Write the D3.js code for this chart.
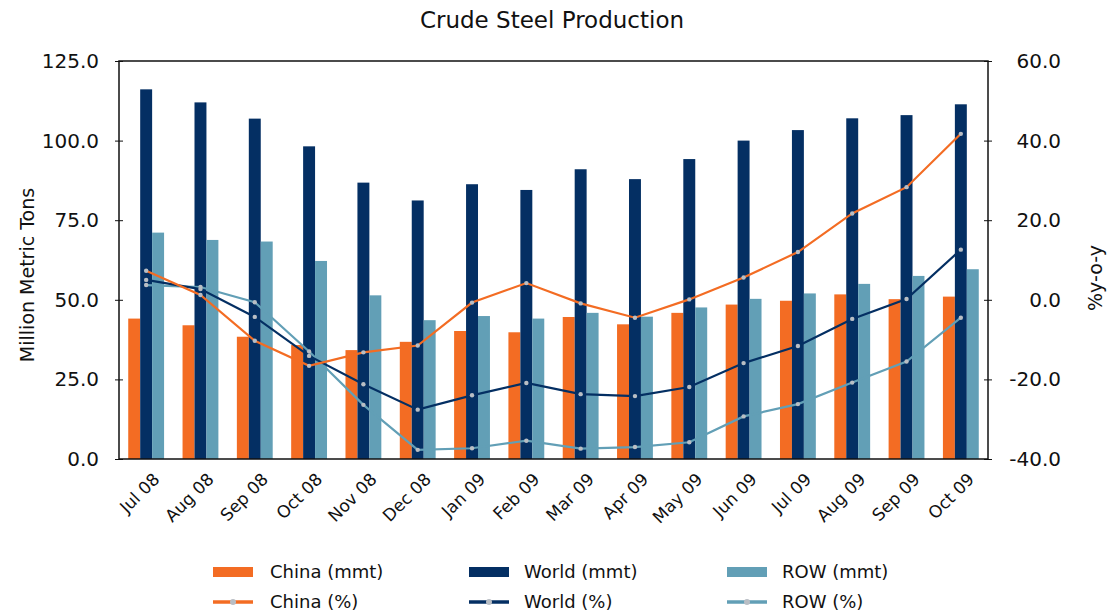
<!DOCTYPE html>
<html>
<head>
<meta charset="utf-8">
<script src="https://cdn.jsdelivr.net/npm/d3@7"></script>
<style>
  body { margin: 0; background: #fff; }
  svg text { font-family: "DejaVu Sans", sans-serif; fill: #111; }
</style>
</head>
<body>
<svg id="main" width="1112" height="616"></svg>
<script>
const months = ["Jul 08","Aug 08","Sep 08","Oct 08","Nov 08","Dec 08","Jan 09","Feb 09",
                "Mar 09","Apr 09","May 09","Jun 09","Jul 09","Aug 09","Sep 09","Oct 09"]
const chinaMmt = [44.1,42.0,38.4,35.8,34.2,36.8,40.2,39.8,44.6,42.3,45.9,48.5,49.7,51.7,50.2,51.0]
const worldMmt = [116.1,112.0,106.9,98.2,86.8,81.2,86.3,84.5,91.0,87.9,94.2,100.0,103.3,107.0,108.0,111.4]
const rowMmt   = [71.1,68.8,68.3,62.2,51.4,43.6,44.9,44.1,45.9,44.7,47.6,50.3,52.0,55.0,57.5,59.6]
const chinaPct = [7.3,1.2,-10.3,-16.6,-13.2,-11.5,-0.7,4.2,-0.9,-4.5,0.1,5.6,12.0,21.7,28.3,41.7]
const worldPct = [5.0,2.7,-4.3,-14.1,-21.2,-27.6,-24.0,-20.9,-23.7,-24.2,-21.9,-15.9,-11.6,-4.8,0.2,12.6]
const rowPct   = [3.7,3.2,-0.6,-13.0,-26.4,-37.7,-37.3,-35.4,-37.4,-37.0,-35.8,-29.3,-26.2,-20.8,-15.5,-4.5]
const leftTicks = [0,25,50,75,100,125]
const rightTicks = [-40,-20,0,20,40,60]

const colors = {china:"#f36c23", world:"#042f63", row:"#629fb6"}

const svg = d3.select("#main")
const L = 119, R = 988, T = 61, B = 459
const fmt = d => d.toFixed(1)   // plain hyphen for negatives

let x = d3.scaleBand().domain(months).range([L,R]).paddingInner(0.34).paddingOuter(0.17)
let sub = d3.scaleBand().domain(["china","world","row"]).range([0,x.bandwidth()])
let yL = d3.scaleLinear().domain([0,125]).range([B,T])
let yR = d3.scaleLinear().domain([-40,60]).range([B,T])

// bars
const barSeries = [["china",chinaMmt],["world",worldMmt],["row",rowMmt]]
barSeries.forEach(([key,vals]) => {
    svg.append("g").selectAll("rect")
        .data(vals)
        .enter()
        .append("rect")
        .attr("x",(d,i)=> x(months[i]) + sub(key))
        .attr("width", sub.bandwidth())
        .attr("y", d=> yL(d))
        .attr("height", d=> B - yL(d))
        .style("fill", colors[key])
})

// lines
const cx = i => x(months[i]) + x.bandwidth()/2
const lineSeries = [["row",rowPct],["world",worldPct],["china",chinaPct]]
lineSeries.forEach(([key,vals]) => {
    let line = d3.line().x((d,i)=>cx(i)).y(d=>yR(d))
    svg.append("path").datum(vals)
        .attr("d", line)
        .attr("fill","none")
        .attr("stroke", colors[key])
        .attr("stroke-width", 2.2)
    svg.append("g").selectAll("circle")
        .data(vals).enter().append("circle")
        .attr("cx",(d,i)=>cx(i)).attr("cy",d=>yR(d))
        .attr("r",2.2)
        .style("fill","#b9bec4")
})

// frame
svg.append("rect").attr("x",L).attr("y",T).attr("width",R-L).attr("height",B-T)
    .attr("fill","none").attr("stroke","#111").attr("stroke-width",1.5)

// axes
let leftAxis = d3.axisLeft(yL).tickValues(leftTicks).tickFormat(fmt).tickSize(4).tickPadding(16)
let gl = svg.append("g").attr("transform",`translate(${L},0)`).call(leftAxis)
gl.select(".domain").remove()
gl.selectAll(".tick line").attr("x1",4).attr("stroke","#111")
gl.selectAll("text").style("font-size","20px")

let rightAxis = d3.axisRight(yR).tickValues(rightTicks).tickFormat(fmt).tickSize(4).tickPadding(0)
let gr = svg.append("g").attr("transform",`translate(${R},0)`).call(rightAxis)
gr.select(".domain").remove()
gr.selectAll(".tick line").attr("x1",-4).attr("stroke","#111")
gr.selectAll("text").style("font-size","20px").attr("text-anchor","end").attr("x",73)

// x labels
svg.append("g").selectAll("text")
    .data(months).enter().append("text")
    .attr("transform", d=> `translate(${x(d)+x.bandwidth()/2+6},${B+13}) rotate(-45)`)
    .attr("text-anchor","end")
    .attr("dy","0.7em")
    .style("font-size","17px")
    .text(d=>d)

// titles
svg.append("text").attr("x",552).attr("y",28).attr("text-anchor","middle")
    .style("font-size","23px").text("Crude Steel Production")
svg.append("text").attr("transform","translate(34,275) rotate(-90)").attr("text-anchor","middle")
    .style("font-size","19px").text("Million Metric Tons")
svg.append("text").attr("transform","translate(1102,278) rotate(-90)").attr("text-anchor","middle")
    .style("font-size","19px").text("%y-o-y")

// legend
const legendItems = [
    {label:"China (mmt)", key:"china", bar:true, x:213, y:572},
    {label:"World (mmt)", key:"world", bar:true, x:469, y:572},
    {label:"ROW (mmt)", key:"row", bar:true, x:727, y:572},
    {label:"China (%)", key:"china", bar:false, x:213, y:602},
    {label:"World (%)", key:"world", bar:false, x:469, y:602},
    {label:"ROW (%)", key:"row", bar:false, x:727, y:602}
]
let lg = svg.append("g").selectAll("g").data(legendItems).enter().append("g")
    .attr("transform", d=>`translate(${d.x},${d.y})`)
lg.filter(d=>d.bar).append("rect").attr("x",0).attr("y",-5).attr("width",40).attr("height",10)
    .style("fill",d=>colors[d.key])
lg.filter(d=>!d.bar).append("line").attr("x1",0).attr("x2",40)
    .attr("stroke",d=>colors[d.key]).attr("stroke-width",3.5)
lg.filter(d=>!d.bar).append("circle").attr("cx",20).attr("r",3).style("fill","#b9bec4")
lg.append("text").attr("x",d=> d.key=="china" ? 57 : 55).attr("dy","0.35em")
    .style("font-size","18px").text(d=>d.label)
</script>
</body>
</html>
